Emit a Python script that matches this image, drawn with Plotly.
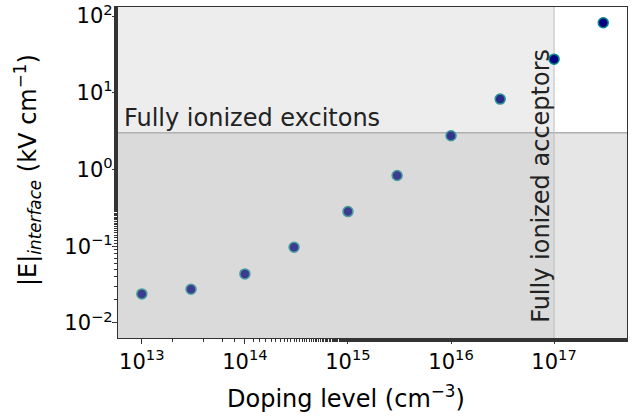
import numpy as np
import plotly.graph_objects as go

doping = [1e13, 3e13, 1e14, 3e14, 1e15, 3e15, 1e16, 3e16, 1e17, 3e17]
efield = [0.0239, 0.0275, 0.0436, 0.097, 0.283, 0.835, 2.75, 8.26, 27.4, 81.8]
fill_colors = ["#3b3b8f", "#3b3b8f", "#3b3b8f", "#3b3b8f", "#3b3b8f", "#3b3b8f",
               "#34348c", "#2a2a88", "#000080", "#000080"]
edge_colors = ["#4a9e9e", "#4a9e9e", "#4a9e9e", "#4a9e9e", "#4a9e9e", "#4a9e9e",
               "#3a9a9a", "#2a9696", "#008b8b", "#008b8b"]
exciton_threshold = 3.0
acceptor_threshold = 1e17
x_range = [5.87e12, 5.1e17]
y_range = [6.37e-3, 1.31e2]
xtick_vals = [1e13, 1e14, 1e15, 1e16, 1e17]
xtick_text = ["10<sup>13</sup>", "10<sup>14</sup>", "10<sup>15</sup>", "10<sup>16</sup>", "10<sup>17</sup>"]
ytick_vals = [1e-2, 1e-1, 1e0, 1e1, 1e2]
ytick_text = ["10<sup>\u22122</sup>", "10<sup>\u22121</sup>", "10<sup>0</sup>", "10<sup>1</sup>", "10<sup>2</sup>"]
x_title = "Doping level (cm<sup>\u22123</sup>)"
y_title = "|E|<sub><i>interface</i></sub> (kV cm<sup>\u22121</sup>)"

FONT = "DejaVu Sans"

fig = go.Figure()
fig.add_trace(go.Scatter(
    x=doping, y=efield, mode="markers",
    marker=dict(size=10, color=fill_colors, line=dict(color=edge_colors, width=1.5)),
    showlegend=False, hoverinfo="skip"))

shapes = [
    dict(type="rect", xref="x", yref="y", x0=x_range[0], x1=acceptor_threshold,
         y0=exciton_threshold, y1=y_range[1], fillcolor="#ededed", line_width=0, layer="below"),
    dict(type="rect", xref="x", yref="y", x0=x_range[0], x1=acceptor_threshold,
         y0=y_range[0], y1=exciton_threshold, fillcolor="#dadada", line_width=0, layer="below"),
    dict(type="rect", xref="x", yref="y", x0=acceptor_threshold, x1=x_range[1],
         y0=y_range[0], y1=exciton_threshold, fillcolor="#e6e6e6", line_width=0, layer="below"),
    dict(type="line", xref="x", yref="y", x0=x_range[0], x1=x_range[1],
         y0=exciton_threshold, y1=exciton_threshold, line=dict(color="#b0b0b0", width=1.5), layer="below"),
    dict(type="line", xref="x", yref="y", x0=acceptor_threshold, x1=acceptor_threshold,
         y0=y_range[0], y1=y_range[1], line=dict(color="#bdbdbd", width=1), layer="below"),
]

annotations = [
    dict(text="Fully ionized excitons", xref="paper", yref="y",
         x=0.007, y=np.log10(exciton_threshold), xanchor="left", yanchor="bottom",
         showarrow=False, font=dict(family=FONT, size=24, color="#222222"), yshift=-1),
    dict(text="Fully ionized acceptors", xref="x", yref="paper",
         x=np.log10(acceptor_threshold), y=0.04, xanchor="right", yanchor="bottom",
         textangle=-90, showarrow=False, font=dict(family=FONT, size=24, color="#222222"), xshift=3),
    dict(text=x_title, xref="paper", yref="paper", x=0.448, y=-0.178,
         xanchor="center", yanchor="middle", showarrow=False,
         font=dict(family=FONT, size=24, color="black")),
    dict(text=y_title, xref="paper", yref="paper", x=-0.1768, y=0.5076,
         xanchor="center", yanchor="middle", textangle=-90, showarrow=False,
         font=dict(family=FONT, size=24, color="black")),
]

fig.update_layout(
    width=641, height=418,
    margin=dict(l=118, r=14, t=7, b=80),
    plot_bgcolor="white", paper_bgcolor="white",
    font=dict(family=FONT, size=21, color="black"),
    hovermode=False,
    shapes=shapes, annotations=annotations,
    xaxis=dict(type="log", range=[np.log10(x_range[0]), np.log10(x_range[1])],
               tickvals=xtick_vals, ticktext=xtick_text, automargin=False,
               ticklabeloverflow="allow",
               ticks="outside", ticklen=5, tickwidth=1, tickcolor="#333333",
               showline=True, linecolor="#333333", linewidth=1.2, mirror=True,
               showgrid=False, zeroline=False,
               minor=dict(ticks="outside", ticklen=3, tickcolor="#333333", showgrid=False)),
    yaxis=dict(type="log", range=[np.log10(y_range[0]), np.log10(y_range[1])],
               tickvals=ytick_vals, ticktext=ytick_text, automargin=False,
               ticklabeloverflow="allow",
               ticks="outside", ticklen=5, tickwidth=1, tickcolor="#333333",
               ticklabelstandoff=-5,
               showline=True, linecolor="#333333", linewidth=1.2, mirror=True,
               showgrid=False, zeroline=False,
               minor=dict(ticks="outside", ticklen=3, tickcolor="#333333", showgrid=False)),
)

fig.write_html("out.html", config={"displayModeBar": False},
               post_script="document.body.style.margin='0';")
